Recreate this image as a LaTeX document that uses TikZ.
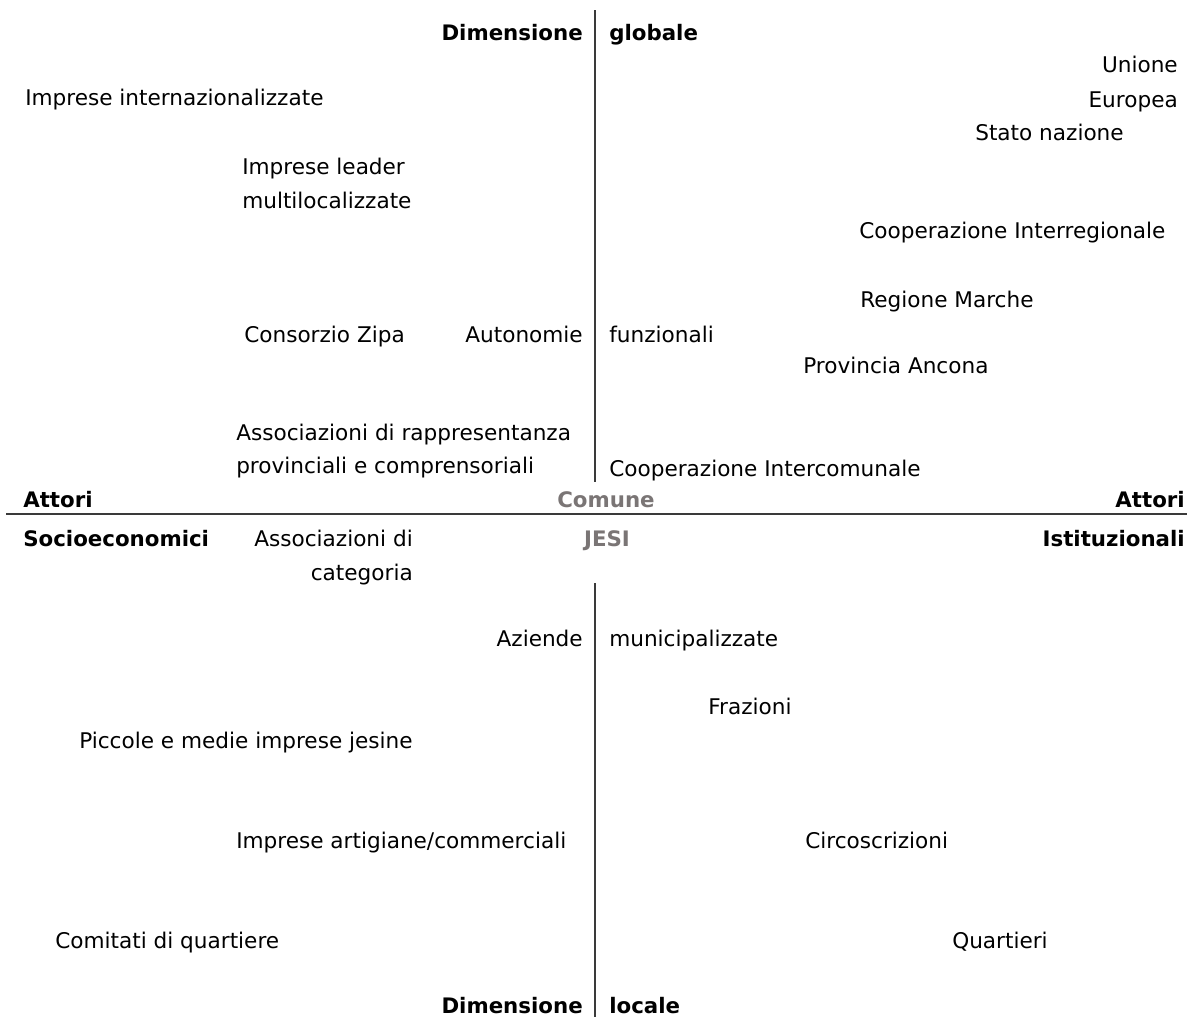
\documentclass[tikz,border=0pt]{standalone}
\usepackage{fontspec}
\setmainfont{DejaVu Sans}
\definecolor{axisgray}{HTML}{3A3A3A}
\definecolor{jesigray}{HTML}{7A7575}
\tikzset{
  actor/.style={inner sep=0pt, font=\fontsize{16.2}{19}\selectfont},
  dimlabel/.style={inner sep=0pt, font=\fontsize{16}{19}\selectfont\bfseries},
  citylabel/.style={dimlabel, text=jesigray},
  axisline/.style={axisgray, line width=1.5pt}
}
\begin{document}
\begin{tikzpicture}[x=0.75pt,y=-0.75pt]
  \useasboundingbox (0,0) rectangle (1187,1017);
  % axes
  \coordinate (topA) at (595,10);
  \coordinate (topB) at (595,482);
  \coordinate (botA) at (595,583);
  \coordinate (botB) at (595,1017);
  \coordinate (leftH) at (6,514);
  \coordinate (rightH) at (1187,514);
  \draw[axisline] (topA) -- (topB);
  \draw[axisline] (botA) -- (botB);
  \draw[axisline] (leftH) -- (rightH);
  % axis labels
  \node[dimlabel, anchor=mid east] (dimG) at (583,37) {Dimensione};
  \node[dimlabel, anchor=mid west] (glob) at (609,37) {globale};
  \node[dimlabel, anchor=mid east] (dimL) at (583,1010) {Dimensione};
  \node[dimlabel, anchor=mid west] (loc) at (609,1010) {locale};
  \node[dimlabel, anchor=mid west] (attS) at (23,504) {Attori};
  \node[dimlabel, anchor=mid west] (socio) at (23,543) {Socioeconomici};
  \node[dimlabel, anchor=mid east] (attI) at (1185,504) {Attori};
  \node[dimlabel, anchor=mid east] (isti) at (1185,543) {Istituzionali};
  \node[citylabel, anchor=mid] (comune) at (606,504) {Comune};
  \node[citylabel, anchor=mid] (jesi) at (607,543) {JESI};
  % upper half
  \node[actor, anchor=mid east] (ue1) at (1178,69) {Unione};
  \node[actor, anchor=mid east] (ue2) at (1178,104) {Europea};
  \node[actor, anchor=mid west] (intern) at (25,102) {Imprese internazionalizzate};
  \node[actor, anchor=mid west] (stato) at (975,137) {Stato nazione};
  \node[actor, anchor=mid west] (leader1) at (242,171) {Imprese leader};
  \node[actor, anchor=mid west] (leader2) at (242,205) {multilocalizzate};
  \node[actor, anchor=mid west] (interreg) at (859,235) {Cooperazione Interregionale};
  \node[actor, anchor=mid west] (regione) at (860,304) {Regione Marche};
  \node[actor, anchor=mid west] (zipa) at (244,339) {Consorzio Zipa};
  \node[actor, anchor=mid east] (auto1) at (583,339) {Autonomie};
  \node[actor, anchor=mid west] (auto2) at (609,339) {funzionali};
  \node[actor, anchor=mid west] (provincia) at (803,370) {Provincia Ancona};
  \node[actor, anchor=mid west] (rappr1) at (236,437) {Associazioni di rappresentanza};
  \node[actor, anchor=mid west] (rappr2) at (236,470) {provinciali e comprensoriali};
  \node[actor, anchor=mid west] (intercom) at (609,473) {Cooperazione Intercomunale};
  % lower half
  \node[actor, anchor=mid east] (categ1) at (413,543) {Associazioni di};
  \node[actor, anchor=mid east] (categ2) at (413,577) {categoria};
  \node[actor, anchor=mid east] (aziende1) at (583,643) {Aziende};
  \node[actor, anchor=mid west] (aziende2) at (609,643) {municipalizzate};
  \node[actor, anchor=mid west] (frazioni) at (708,711) {Frazioni};
  \node[actor, anchor=mid west] (pmi) at (79,745) {Piccole e medie imprese jesine};
  \node[actor, anchor=mid west] (artig) at (236,845) {Imprese artigiane/commerciali};
  \node[actor, anchor=mid west] (circo) at (805,845) {Circoscrizioni};
  \node[actor, anchor=mid west] (comitati) at (55,945) {Comitati di quartiere};
  \node[actor, anchor=mid west] (quartieri) at (952,945) {Quartieri};
\end{tikzpicture}
\end{document}
